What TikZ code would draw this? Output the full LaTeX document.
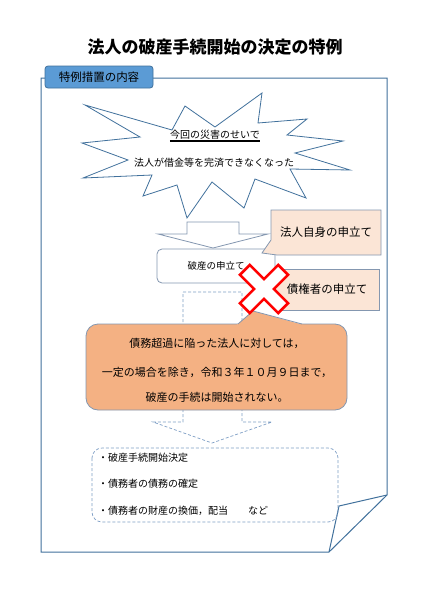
\documentclass[tikz,border=0pt]{standalone}
\usepackage{fontspec}
\setmainfont{Noto Sans CJK JP}
\definecolor{frameblue}{HTML}{41719C}
\definecolor{grayblue}{HTML}{8497B0}
\definecolor{tabblue}{HTML}{5B9BD5}
\definecolor{peach}{HTML}{FBE5D6}
\definecolor{orangefill}{HTML}{F4B183}
\definecolor{dashblue}{HTML}{7F9FC6}
\definecolor{xred}{HTML}{FF0000}
\tikzset{
  frameline/.style={draw=frameblue, line width=1pt},
  burst/.style={draw=frameblue, line width=0.8pt, fill=white, line join=miter},
  grayline/.style={draw=grayblue, line width=0.8pt},
  dashline/.style={draw=dashblue, line width=0.7pt, dash pattern=on 3pt off 2pt},
  txt/.style={inner sep=0pt, font=\fontsize{10}{12}\selectfont},
  bigtxt/.style={inner sep=0pt, font=\fontsize{11}{13}\selectfont},
  tabbox/.style={draw=frameblue, fill=tabblue, line width=0.8pt, rounded corners=3pt,
    minimum width=108pt, minimum height=22pt, inner sep=0pt, font=\fontsize{11.5}{13}\selectfont},
  roundbox/.style={draw=grayblue, fill=white, line width=0.8pt, rounded corners=5pt,
    minimum width=118pt, minimum height=34pt, inner sep=0pt, font=\fontsize{9.5}{11}\selectfont},
  peachbox/.style={draw=grayblue, fill=peach, line width=0.8pt,
    minimum width=104pt, minimum height=41pt, inner sep=0pt, font=\fontsize{11.5}{13}\selectfont},
  xshape/.style={draw=xred, fill=white, line width=2.6pt, line join=miter},
}
\begin{document}
\begin{tikzpicture}[x=1pt,y=-1pt]
\useasboundingbox[fill=white] (0,0) rectangle (424,600);

% title
\node[inner sep=0pt, font=\fontsize{17}{20}\selectfont\bfseries] (title) at (215,47) {法人の破産手続開始の決定の特例};

% page frame with folded corner
\draw[frameline, line join=miter] (45,78) -- (387,78) -- (387,495) -- (329,552) -- (41,552) -- (41,78) -- (45,78);
\draw[frameline, line join=miter] (387,495) -- (339,506) -- (329,552);

% tab
\node[tabbox] (tab) at (99,77) {特例措置の内容};

% starburst
\draw[burst] (85,105) -- (172,130) -- (185,106) -- (215,127) -- (262,93) -- (258,123)
  -- (307,119) -- (287,135) -- (343,141) -- (295,153) -- (350,170) -- (290,169)
  -- (306,198) -- (255,179) -- (244,208) -- (212,182) -- (187,218) -- (177,185)
  -- (143,196) -- (152,175) -- (83,178) -- (128,160) -- (82,143) -- (140,137) -- cycle;
\node[txt] (cause) at (215,135) {今回の災害のせいで};
\draw[line width=1.6pt] ([yshift=-2.2pt]cause.base west) -- ([yshift=-2.2pt]cause.base east);
\node[txt] (result) at (214,163) {法人が借金等を完済できなくなった};

% block arrow
\draw[grayline, fill=white, line join=miter] (187,222) -- (239,222) -- (239,234) -- (268,234)
  -- (213,248) -- (158,234) -- (187,234) -- cycle;

% dashed arrow (behind)
\draw[dashline] (183,292) -- (242,292) -- (242,422) -- (272,422) -- (212,443)
  -- (153,422) -- (183,422) -- cycle;

% petition box
\node[roundbox] (petition) at (216,266) {破産の申立て};

% callout: own petition
\draw[grayline, fill=peach, line join=miter] (271,210) -- (381,210) -- (381,255) -- (277,255)
  -- (262,253) -- (271,240) -- cycle;
\node[inner sep=0pt, font=\fontsize{11.5}{13}\selectfont] (own) at (326,232) {法人自身の申立て};

% creditor petition
\node[peachbox] (creditor) at (327,289.5) {債権者の申立て};

% orange callout
\draw[draw=grayblue, fill=orangefill, line width=0.8pt, rounded corners=12pt] (86,324) rectangle (347,410);
\fill[orangefill] (236.5,325) -- (253,311) -- (303.5,325) -- cycle;
\draw[grayline] (238,324) -- (253,311) -- (302,324);
\node[bigtxt] (l1) at (217,343) {債務超過に陥った法人に対しては，};
\node[bigtxt] (l2) at (217,372) {一定の場合を除き，令和３年１０月９日まで，};
\node[bigtxt] (l3) at (217,397) {破産の手続は開始されない。};

% red X
\begin{scope}[shift={(264,289)}, rotate=45]
\draw[xshape] (7,27) -- (7,7) -- (27,7) -- (27,-7) -- (7,-7) -- (7,-27) -- (-7,-27)
  -- (-7,-7) -- (-27,-7) -- (-27,7) -- (-7,7) -- (-7,27) -- cycle;
\end{scope}

% bottom dashed box
\draw[dashline, rounded corners=10pt] (92,448) rectangle (338,522);
\node[txt, anchor=west] (b1) at (98,458) {・破産手続開始決定};
\node[txt, anchor=west] (b2) at (98,484) {・債務者の債務の確定};
\node[txt, anchor=west] (b3) at (98,511) {・債務者の財産の換価，配当　　など};
\end{tikzpicture}
\end{document}
